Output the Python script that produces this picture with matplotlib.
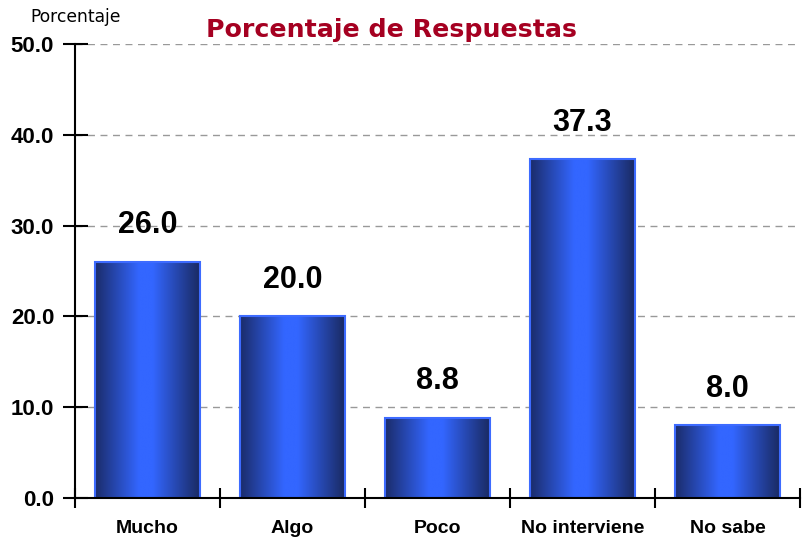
import numpy as np
import matplotlib
matplotlib.use("Agg")
import matplotlib.pyplot as plt
from matplotlib.colors import LinearSegmentedColormap

# ---------------- data ----------------
categories = ["Mucho", "Algo", "Poco", "No interviene", "No sabe"]
values = [26.0, 20.0, 8.8, 37.3, 8.0]
yticks = [0.0, 10.0, 20.0, 30.0, 40.0, 50.0]

plt.rcParams["font.family"] = ["Liberation Sans", "DejaVu Sans"]

bar_cmap = LinearSegmentedColormap.from_list(
    "bar", [(0.0, "#1b2c6a"), (0.42, "#3366ff"), (0.55, "#3366ff"), (1.0, "#1a2a62")]
)

fig = plt.figure(figsize=(8.07, 5.43), dpi=100)
ax = fig.add_axes([75 / 807, 1 - 498 / 543, 725 / 807, 454 / 543])

x = np.arange(len(categories))
width = 0.72
grad = np.linspace(0, 1, 256).reshape(1, -1)
for xi, v in zip(x, values):
    x0 = xi - width / 2
    im = ax.imshow(grad, cmap=bar_cmap, aspect="auto",
                   extent=[x0, x0 + width, 0, v], zorder=3)
    rect = plt.Rectangle((x0, 0), width, v, facecolor="none",
                         edgecolor="#3d6bff", linewidth=1.5, zorder=4)
    ax.add_patch(rect)
    im.set_clip_path(rect)
    ax.text(xi, v + 2.4, f"{v:.1f}", ha="center", va="bottom",
            fontsize=22, fontweight="bold", zorder=5)

ax.set_xlim(-0.5, len(categories) - 0.5)
ax.set_ylim(0, 50)
ax.set_yticks(yticks)
ax.set_yticklabels([f"{t:.1f}" for t in yticks], fontsize=16, fontweight="bold")
ax.set_xticks(np.arange(len(categories) + 1) - 0.5)
ax.set_xticklabels([])
ax.set_xticks(x, minor=True)
ax.set_xticklabels(categories, minor=True, fontsize=14, fontweight="bold")
ax.tick_params(axis="x", which="minor", length=0, pad=16)
ax.tick_params(axis="x", which="major", direction="inout", length=15, width=1.5)
ax.tick_params(axis="y", direction="inout", length=18, width=1.5, pad=6)

for t in yticks[1:]:
    ax.axhline(t, color="#999999", linestyle=(0, (5, 4)), linewidth=1, zorder=1)

for s in ["top", "right"]:
    ax.spines[s].set_visible(False)
ax.spines["left"].set_linewidth(1.5)
ax.spines["bottom"].set_linewidth(1.5)
ax.spines["left"].set_zorder(6)
ax.spines["bottom"].set_zorder(6)

fig.text(391 / 807, 1 - 30 / 543, "Porcentaje de Respuestas", color="#a50021",
         fontsize=18.2, fontweight="bold", ha="center", va="center",
         family="DejaVu Sans")
fig.text(76 / 807, 1 - 17 / 543, "Porcentaje", fontsize=12.3, ha="center",
         va="center", family="DejaVu Sans")

fig.savefig("out.png", dpi=100)
